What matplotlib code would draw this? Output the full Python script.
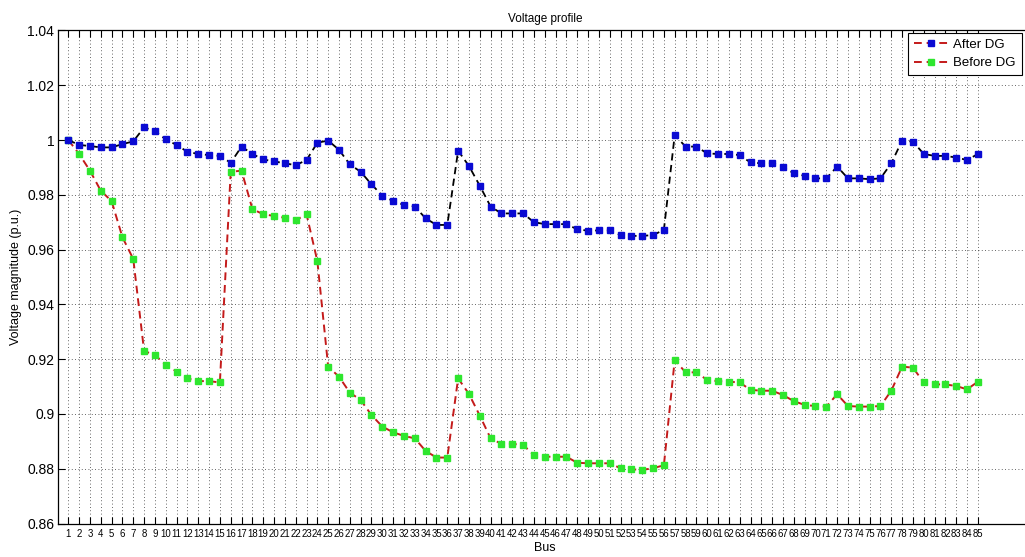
import numpy as np
import matplotlib
matplotlib.use('Agg')
import matplotlib.pyplot as plt
from matplotlib.lines import Line2D

plt.rcParams['font.family'] = ['Liberation Sans', 'DejaVu Sans']

bus = np.arange(1, 86)

# bus voltages (p.u.) with the distributed generators connected
v_after = [
    1.0000, 0.9982, 0.9978, 0.9973, 0.9973, 0.9985, 0.9995, 1.0046, 1.0033, 1.0002,
    0.9982, 0.9957, 0.9949, 0.9945, 0.9942, 0.9917, 0.9976, 0.9949, 0.9929, 0.9922,
    0.9915, 0.9908, 0.9927, 0.9990, 0.9998, 0.9964, 0.9911, 0.9884, 0.9838, 0.9797,
    0.9777, 0.9763, 0.9757, 0.9714, 0.9690, 0.9690, 0.9961, 0.9905, 0.9833, 0.9757,
    0.9732, 0.9732, 0.9732, 0.9700, 0.9693, 0.9693, 0.9693, 0.9674, 0.9669, 0.9670,
    0.9670, 0.9653, 0.9650, 0.9650, 0.9653, 0.9672, 1.0018, 0.9976, 0.9976, 0.9951,
    0.9949, 0.9949, 0.9945, 0.9918, 0.9915, 0.9915, 0.9903, 0.9878, 0.9869, 0.9860,
    0.9860, 0.9903, 0.9860, 0.9860, 0.9857, 0.9860, 0.9915, 0.9998, 0.9994, 0.9949,
    0.9942, 0.9942, 0.9936, 0.9927, 0.9949,
]

# base case without generation
v_before = [
    1.0000, 0.9949, 0.9888, 0.9815, 0.9777, 0.9645, 0.9566, 0.9230, 0.9215, 0.9180,
    0.9155, 0.9130, 0.9120, 0.9120, 0.9115, 0.9884, 0.9888, 0.9748, 0.9729, 0.9723,
    0.9716, 0.9707, 0.9729, 0.9558, 0.9173, 0.9136, 0.9078, 0.9051, 0.8996, 0.8954,
    0.8933, 0.8920, 0.8911, 0.8865, 0.8841, 0.8841, 0.9130, 0.9073, 0.8994, 0.8911,
    0.8891, 0.8891, 0.8887, 0.8850, 0.8844, 0.8844, 0.8844, 0.8822, 0.8820, 0.8820,
    0.8820, 0.8802, 0.8798, 0.8796, 0.8802, 0.8813, 0.9197, 0.9152, 0.9152, 0.9124,
    0.9120, 0.9118, 0.9115, 0.9088, 0.9085, 0.9085, 0.9069, 0.9047, 0.9033, 0.9029,
    0.9027, 0.9072, 0.9029, 0.9027, 0.9027, 0.9029, 0.9085, 0.9173, 0.9169, 0.9115,
    0.9108, 0.9108, 0.9102, 0.9090, 0.9118,
]

y_ticks = [0.86, 0.88, 0.9, 0.92, 0.94, 0.96, 0.98, 1, 1.02, 1.04]
y_tick_labels = ['0.86', '0.88', '0.9', '0.92', '0.94', '0.96', '0.98', '1', '1.02', '1.04']

red = '#c41a1a'
blue = '#0a0ad2'
green = '#2ee62e'

fig = plt.figure(figsize=(10.25, 5.57), dpi=100)
ax = fig.add_axes([0.0569, 0.060, 0.95, 0.8854])

ax.plot(bus, v_before, '--', color=red, lw=1.4, dashes=(4, 2.5),
        marker='s', ms=4.2, mfc=green, mec=green, zorder=3)
ax.plot(bus, v_after, '--', color='k', lw=1.3, dashes=(4, 2.5),
        marker='s', ms=4.2, mfc=blue, mec=blue, zorder=4)

ax.set_xlim(0.08, 90)
ax.set_ylim(0.86, 1.04)
ax.set_xticks(bus)
# bus numbers are packed tightly, keep them small enough to sit side by side
ax.set_xticklabels([str(b) for b in bus], fontsize=6.9)
ax.set_yticks(y_ticks)
ax.set_yticklabels(y_tick_labels, fontsize=10)
ax.tick_params(direction='in', top=True, right=True, length=5, width=0.8, pad=3)
ax.tick_params(axis='x', pad=4)
ax.grid(True, linestyle=(0, (1, 3)), color='k', lw=0.6, alpha=0.8)
for s in ax.spines.values():
    s.set_linewidth(0.9)

ax.set_title('Voltage profile', fontsize=8.5, pad=6)
ax.set_xlabel('Bus', fontsize=9, labelpad=2)
ax.set_ylabel('Voltage magnitude (p.u.)', fontsize=9, labelpad=4)

handles = [
    Line2D([], [], ls='--', color=red, lw=1.4, dashes=(4, 2.5), marker='s', ms=4.2, mfc=blue, mec=blue),
    Line2D([], [], ls='--', color=red, lw=1.4, dashes=(4, 2.5), marker='s', ms=4.2, mfc=green, mec=green),
]
leg = fig.legend(handles, ['After DG', 'Before DG'], loc='upper right',
                 bbox_to_anchor=(0.997, 0.941), borderaxespad=0, fontsize=9.5,
                 fancybox=False, framealpha=1, edgecolor='k', handlelength=2.6,
                 borderpad=0.45, labelspacing=0.45, handletextpad=0.4)
leg.get_frame().set_linewidth(0.8)

fig.savefig('out.png', dpi=100)
